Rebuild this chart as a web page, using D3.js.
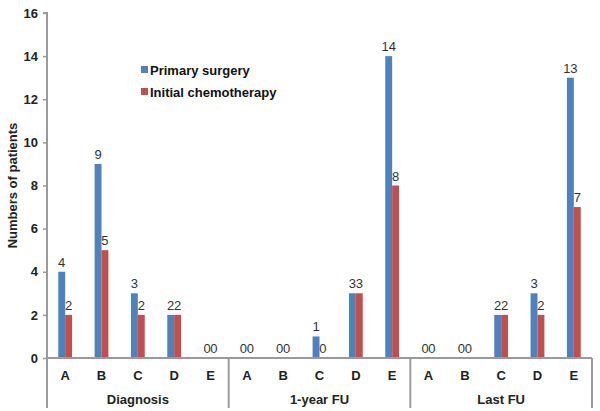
<!DOCTYPE html>
<html><head><meta charset="utf-8">
<script src="https://cdn.jsdelivr.net/npm/d3@7"></script>
<style>body{margin:0;background:#fff}svg{display:block}text{font-family:"Liberation Sans",Arial,sans-serif}</style>
</head><body><svg id="c" width="600" height="411"></svg>
<script>
const groups = ["Diagnosis", "1-year FU", "Last FU"];
const categories = ["A", "B", "C", "D", "E"];
const seriesNames = ["Primary surgery", "Initial chemotherapy"];
const primarySurgery = [4, 9, 3, 2, 0, 0, 0, 1, 3, 14, 0, 0, 2, 3, 13];
const initialChemo = [2, 5, 2, 2, 0, 0, 0, 0, 3, 8, 0, 0, 2, 2, 7];
const colors = ["#4F81BD", "#C0504D"];
const yTicks = [0, 2, 4, 6, 8, 10, 12, 14, 16];

const svg = d3.select("#c");
const L = 47, R = 592, T = 13, B = 358;
const keys = [];
groups.forEach((g, gi) => categories.forEach((c, ci) => keys.push(gi + "-" + c)));
const x = d3.scaleBand().domain(keys).range([L, R]).paddingInner(0).paddingOuter(0);
const y = d3.scaleLinear().domain([0, 16]).range([B, T]);
const step = x.bandwidth();
const bw = step * 0.19;

// y axis
const ya = d3.axisLeft(y).tickValues(yTicks).tickSize(4).tickPadding(5);
const yg = svg.append("g").attr("transform", `translate(${L},0)`).call(ya);
yg.select(".domain").attr("stroke", "#9a9a9a").attr("stroke-width", 2).attr("d", `M-4,${T}H0V${B}`);
yg.selectAll(".tick line").attr("stroke", "#9a9a9a").attr("stroke-width", 1.5);
yg.selectAll(".tick text").attr("font-size", 13).attr("font-weight", "bold").attr("fill", "#222");

// bars
const data = [primarySurgery, initialChemo];
data.forEach((vals, si) => {
  svg.append("g").selectAll("rect").data(vals).join("rect")
    .attr("x", (d, i) => x(keys[i]) + step / 2 - bw + si * bw)
    .attr("width", bw)
    .attr("y", d => y(d))
    .attr("height", d => B - y(d))
    .attr("fill", colors[si]);
  svg.append("g").selectAll("text").data(vals).join("text")
    .attr("x", (d, i) => x(keys[i]) + step / 2 - bw / 2 + si * bw)
    .attr("y", d => y(d) - 5)
    .attr("text-anchor", "middle")
    .attr("font-size", 13)
    .attr("fill", "#333")
    .text(d => d);
});

// x axis
svg.append("line").attr("x1", L).attr("x2", R).attr("y1", B).attr("y2", B)
  .attr("stroke", "#9a9a9a").attr("stroke-width", 2);
const dividers = [0, 5, 10, 15].map(i => i < 15 ? x(keys[i]) : R);
svg.append("g").selectAll("line").data(dividers).join("line")
  .attr("x1", d => d).attr("x2", d => d).attr("y1", B).attr("y2", 408)
  .attr("stroke", "#9a9a9a").attr("stroke-width", 2);
svg.append("g").selectAll("text").data(keys).join("text")
  .attr("x", k => x(k) + step / 2).attr("y", 380)
  .attr("text-anchor", "middle").attr("font-size", 13).attr("font-weight", "bold").attr("fill", "#222")
  .text(k => k.split("-")[1]);
svg.append("g").selectAll("text").data(groups).join("text")
  .attr("x", (g, gi) => (dividers[gi] + dividers[gi + 1]) / 2).attr("y", 404)
  .attr("text-anchor", "middle").attr("font-size", 13).attr("font-weight", "bold").attr("fill", "#222")
  .text(g => g);

// y title
svg.append("text").attr("transform", `translate(17,${(T + B) / 2}) rotate(-90)`)
  .attr("text-anchor", "middle").attr("font-size", 13).attr("font-weight", "bold").attr("fill", "#222")
  .text("Numbers of patients");

// legend
const lg = svg.append("g");
seriesNames.forEach((n, i) => {
  const cy = 70 + i * 22;
  lg.append("rect").attr("x", 141).attr("y", cy - 4).attr("width", 7).attr("height", 7).attr("fill", colors[i]);
  lg.append("text").attr("x", 150).attr("y", cy + 4.5).attr("font-size", 13).attr("font-weight", "bold")
    .attr("fill", "#111").text(n);
});
</script></body></html>
